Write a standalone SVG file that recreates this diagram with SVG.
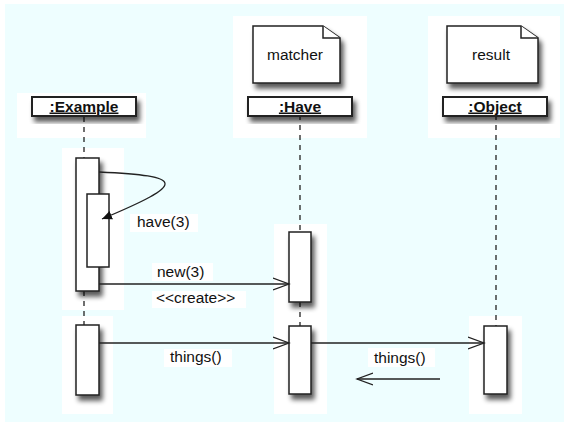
<svg xmlns="http://www.w3.org/2000/svg" width="564" height="423" viewBox="0 0 564 423">
<defs>
<filter id="sh" x="-30%" y="-30%" width="170%" height="170%">
<feGaussianBlur in="SourceAlpha" stdDeviation="2.5"/>
<feOffset dx="3" dy="5" result="b"/>
<feComponentTransfer><feFuncA type="linear" slope="0.65"/></feComponentTransfer>
<feMerge><feMergeNode/><feMergeNode in="SourceGraphic"/></feMerge>
</filter>
<marker id="open" markerWidth="18" markerHeight="14" refX="16" refY="7" orient="auto" markerUnits="userSpaceOnUse">
<path d="M0,1 L16,7 L0,13" fill="none" stroke="#222" stroke-width="1.3"/>
</marker>
<marker id="filled" markerWidth="12" markerHeight="10" refX="10" refY="5" orient="auto" markerUnits="userSpaceOnUse">
<path d="M0,0.5 L10,5 L0,9.5 z" fill="#111"/>
</marker>
</defs>
<style>
.bg{fill:#ffffff}
.box{fill:#ffffff;stroke:#222;stroke-width:2}
.act{fill:#ffffff;stroke:#222;stroke-width:1.5}
.note{fill:#ffffff;stroke:#222;stroke-width:1.5}
.life{stroke:#222;stroke-width:1.3;stroke-dasharray:5 5;fill:none}
.msg{stroke:#222;stroke-width:1.3;fill:none}
.hd{font-family:"Liberation Sans",Arial,sans-serif;font-size:15.5px;font-weight:bold;text-decoration:underline;fill:#111;text-anchor:middle}
.t{font-family:"Liberation Sans",Arial,sans-serif;font-size:15.5px;fill:#111}
.tm{font-family:"Liberation Sans",Arial,sans-serif;font-size:15.5px;fill:#111;text-anchor:middle}
</style>
<rect x="5" y="4" width="559" height="418" fill="#eefeff"/>
<g id="backgrounds">
<rect class="bg" x="17" y="93" width="129" height="45"/>
<rect class="bg" x="233" y="16" width="134" height="122"/>
<rect class="bg" x="428" y="16" width="132" height="122"/>
<rect class="bg" x="62" y="148" width="62" height="162"/>
<rect class="bg" x="62" y="316" width="51" height="98"/>
<rect class="bg" x="274" y="224" width="53" height="190"/>
<rect class="bg" x="469" y="316" width="53" height="98"/>
<rect class="bg" x="130" y="214" width="68" height="18"/>
<rect class="bg" x="152" y="263" width="61" height="18"/>
<rect class="bg" x="152" y="291" width="94" height="17"/>
<rect class="bg" x="164" y="349" width="68" height="18"/>
<rect class="bg" x="368" y="348" width="67" height="19"/>
</g>
<g id="lifelines">
<line class="life" x1="84" y1="117" x2="84" y2="158"/>
<line class="life" x1="84" y1="291" x2="84" y2="325"/>
<line class="life" x1="300" y1="115" x2="300" y2="232"/>
<line class="life" x1="300" y1="302" x2="300" y2="326"/>
<line class="life" x1="496" y1="115" x2="496" y2="326"/>
</g>
<g id="note-matcher">
<path class="note" filter="url(#sh)" d="M253,26 L323,26 L340,38 L340,83 L253,83 Z"/>
<path class="note" d="M323,26 L323,38 L340,38" fill="none"/>
<text class="tm" x="295" y="60">matcher</text>
</g>
<g id="note-result">
<path class="note" filter="url(#sh)" d="M447,26 L521,26 L538,38 L538,83 L447,83 Z"/>
<path class="note" d="M521,26 L521,38 L538,38" fill="none"/>
<text class="tm" x="491" y="60">result</text>
</g>
<g id="head-example">
<rect class="box" filter="url(#sh)" x="32" y="97" width="104" height="19"/>
<text class="hd" x="84" y="111.5">:Example</text>
</g>
<g id="head-have">
<rect class="box" filter="url(#sh)" x="248" y="97" width="104" height="19"/>
<text class="hd" x="300" y="111.5">:Have</text>
</g>
<g id="head-object">
<rect class="box" filter="url(#sh)" x="443" y="97" width="104" height="19"/>
<text class="hd" x="495" y="111.5">:Object</text>
</g>
<g id="act-example-1">
<rect class="act" filter="url(#sh)" x="76" y="158" width="23" height="133"/>
</g>
<g id="act-example-nested">
<rect class="act" x="87" y="194" width="22" height="73"/>
</g>
<g id="act-example-2">
<rect class="act" filter="url(#sh)" x="76" y="325" width="23" height="70"/>
</g>
<g id="act-have-1">
<rect class="act" filter="url(#sh)" x="289" y="232" width="22" height="70"/>
</g>
<g id="act-have-2">
<rect class="act" filter="url(#sh)" x="289" y="326" width="22" height="68"/>
</g>
<g id="act-object">
<rect class="act" filter="url(#sh)" x="484" y="326" width="23" height="68"/>
</g>
<g id="connectors">
<path class="msg" d="M99,172 C185,176 188,183 102,219" marker-end="url(#filled)"/>
<line class="msg" x1="99" y1="284" x2="289" y2="284" marker-end="url(#open)"/>
<line class="msg" x1="99" y1="343" x2="289" y2="343" marker-end="url(#open)"/>
<line class="msg" x1="311" y1="343" x2="484" y2="343" marker-end="url(#open)"/>
<line class="msg" x1="440" y1="379" x2="357" y2="379" marker-end="url(#open)"/>
</g>
<g id="labels">
<text class="t" x="137" y="227">have(3)</text>
<text class="t" x="157" y="277">new(3)</text>
<text class="t" x="156" y="303">&lt;&lt;create&gt;&gt;</text>
<text class="t" x="170" y="362">things()</text>
<text class="t" x="374" y="363">things()</text>
</g>
</svg>
